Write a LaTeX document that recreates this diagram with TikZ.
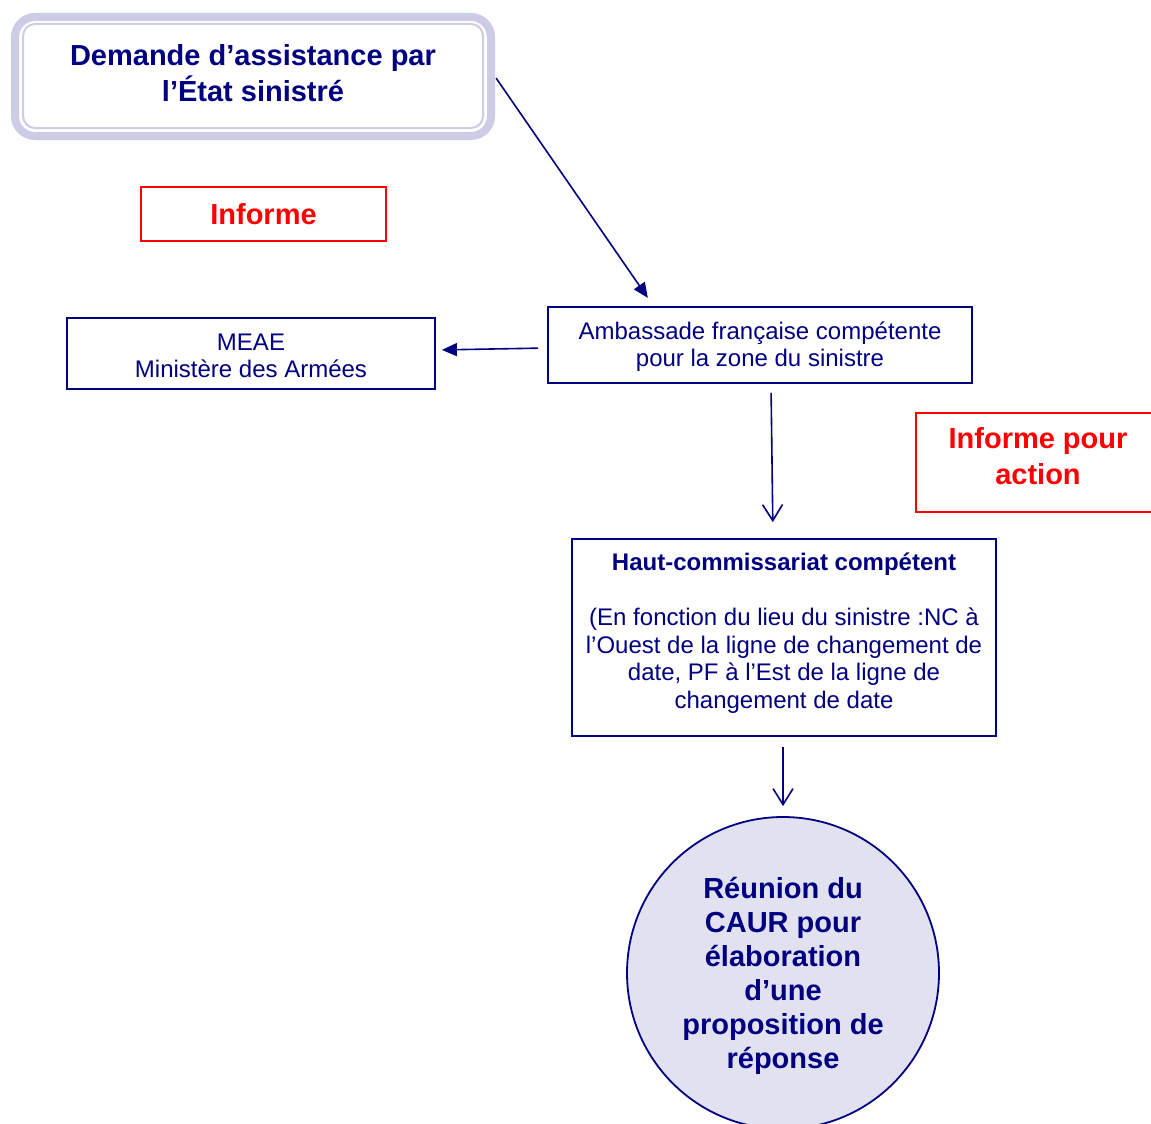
\documentclass[tikz,border=0pt]{standalone}
\usepackage{fontspec}
\setmainfont{Liberation Sans}
\usetikzlibrary{arrows.meta,calc}
\definecolor{navy}{RGB}{0,0,128}
\definecolor{lav}{RGB}{204,204,230}
\definecolor{lavfill}{RGB}{225,225,240}
\definecolor{alert}{RGB}{255,0,0}
\begin{document}
\begin{tikzpicture}[x=1pt,y=-1pt,
  navybox/.style={draw=navy, line width=1.8pt, text=navy, align=center, inner sep=0pt},
  redbox/.style={draw=alert, line width=1.6pt, inner sep=0pt},
  redtext/.style={text=alert, align=center, font=\fontsize{29}{36}\selectfont\bfseries},
  regtext/.style={font=\fontsize{24}{27.5}\selectfont},
  bigbold/.style={font=\fontsize{29}{34}\selectfont\bfseries},
  solidarrow/.style={draw=navy, line width=1.6pt, -{Triangle[length=15pt,width=13pt]}},
  openarrow/.style={draw=navy, line width=1.6pt, -{Straight Barb[length=16pt,width=20pt,line width=1.6pt]}}
]
\useasboundingbox (0,0) rectangle (1151,1124);
\clip (0,0) rectangle (1151,1124);
\fill[white] (0,0) rectangle (1151,1124);

% request from the affected state: double lavender frame
\node[draw=lav, line width=8pt, rounded corners=20pt, fill=white,
      minimum width=476pt, minimum height=119pt, inner sep=0pt] (dem) at (253,76.5) {};
\draw[lav, line width=2pt, rounded corners=12pt]
  ($(dem.north west)+(12,11)$) rectangle ($(dem.south east)+(-12,-12)$);
\node[text=navy, align=center, font=\fontsize{29}{36}\selectfont\bfseries] (demtxt) at (253,73.5)
  {Demande d’assistance par\\l’État sinistré};

% label boxes
\node[redbox, minimum width=245pt, minimum height=54pt] (inf) at (263.5,214) {};
\node[redtext] (inftxt) at (263.5,214) {Informe};
\node[redbox, minimum width=244pt, minimum height=99pt] (infact) at (1038,462.5) {};
\node[redtext] (infacttxt) at (1038,456.5) {Informe pour\\action};

% recipients
\node[navybox, minimum width=368pt, minimum height=71pt] (meae) at (251,353.5) {};
\node[regtext, text=navy, align=center] (meaetxt) at (251,356)
  {MEAE\\Ministère des Armées};
\node[navybox, minimum width=424pt, minimum height=76pt] (amb) at (760,345) {};
\node[regtext, text=navy, align=center] (ambtxt) at (760,346.5)
  {Ambassade française compétente\\pour la zone du sinistre};
\node[navybox, minimum width=424pt, minimum height=197pt] (haut) at (784,637.5) {};
\node[regtext, text=navy, align=center] (hauttxt) at (784,633)
  {{\bfseries Haut-commissariat compétent}\\[27.5pt]
   (En fonction du lieu du sinistre :NC à\\
   l’Ouest de la ligne de changement de\\
   date, PF à l’Est de la ligne de\\
   changement de date};

% CAUR meeting
\node[circle, draw=navy, line width=1.8pt, fill=lavfill, minimum size=312pt,
      inner sep=0pt] (caur) at (783,973) {};
\node[bigbold, text=navy, align=center] (caurtxt) at (783,976)
  {Réunion du\\CAUR pour\\élaboration\\d’une\\proposition de\\réponse};

% connectors
\draw[solidarrow, shorten <=2pt, shorten >=10pt]
  (dem.east) -- ([xshift=-106.5pt]amb.north);
\draw[solidarrow, shorten <=9pt, shorten >=6pt]
  ([yshift=-3pt]amb.west) -- ([yshift=3.5pt]meae.east);
\draw[openarrow, shorten <=9pt, shorten >=16pt]
  ([xshift=11pt]amb.south) -- ([xshift=-11pt]haut.north);
\draw[openarrow, shorten <=10pt, shorten >=10pt]
  ([xshift=-1pt]haut.south) -- (caur.north);
\end{tikzpicture}
\end{document}
